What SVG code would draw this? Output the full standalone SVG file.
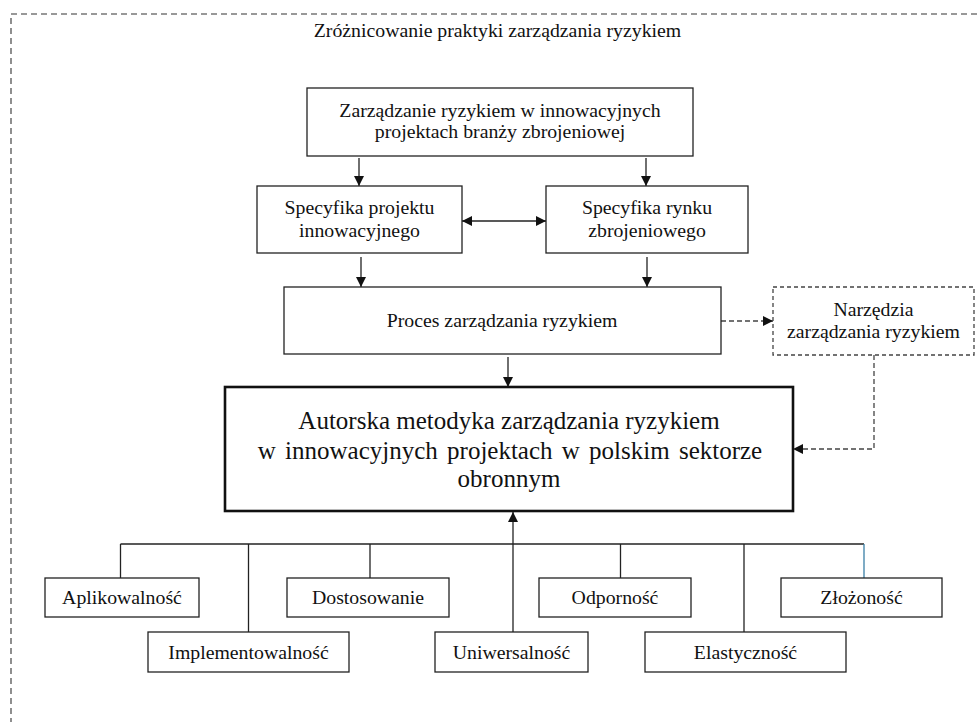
<svg xmlns="http://www.w3.org/2000/svg" width="978" height="722" viewBox="0 0 978 722">
  <defs>
    <marker id="arrow" viewBox="0 0 10 10" refX="10" refY="5" markerWidth="10" markerHeight="10" markerUnits="userSpaceOnUse" orient="auto-start-reverse">
      <path d="M0,0 L10,5 L0,10 Z" fill="#111"/>
    </marker>
  </defs>
  <style>
    .box { fill: #fff; stroke: #222; stroke-width: 1.3; }
    .main { fill: #fff; stroke: #111; stroke-width: 2.6; }
    .dbox { fill: #fff; stroke: #444; stroke-width: 1.3; stroke-dasharray: 4 3; }
    .frame { fill: none; stroke: #333; stroke-width: 1.1; stroke-dasharray: 6 4; }
    .ln { fill: none; stroke: #222; stroke-width: 1.3; }
    .dl { fill: none; stroke: #444; stroke-width: 1.3; stroke-dasharray: 5 3; }
    text { fill: #111; text-anchor: middle; }
    .t { font-size: 19.8px; }
    .big { font-size: 25px; }
  </style>

  <!-- outer dashed frame, running past the right and bottom edges -->
  <rect class="frame" x="11" y="14" width="1000" height="800"/>

  <g font-family="'Liberation Serif', Tinos, 'Times New Roman', Times, 'DejaVu Serif', serif">
  <text class="t" x="497.5" y="37">Zróżnicowanie praktyki zarządzania ryzykiem</text>

  <g id="connectors">
    <line class="ln" x1="359" y1="158" x2="359" y2="186" marker-end="url(#arrow)"/>
    <line class="ln" x1="646" y1="158" x2="646" y2="186" marker-end="url(#arrow)"/>
    <line class="ln" x1="462" y1="221" x2="546" y2="221" marker-start="url(#arrow)" marker-end="url(#arrow)"/>
    <line class="ln" x1="361" y1="257" x2="361" y2="287" marker-end="url(#arrow)"/>
    <line class="ln" x1="647" y1="257" x2="647" y2="287" marker-end="url(#arrow)"/>
    <line class="dl" x1="721" y1="321" x2="773" y2="321" marker-end="url(#arrow)"/>
    <polyline class="dl" points="874,355 874,449 793,449" marker-end="url(#arrow)"/>
    <line class="ln" x1="508" y1="357" x2="508" y2="387" marker-end="url(#arrow)"/>
    <!-- feature bus under the methodology box -->
    <line class="ln" x1="120.5" y1="544" x2="864" y2="544"/>
    <line class="ln" x1="120.5" y1="544" x2="120.5" y2="578"/>
    <line class="ln" x1="248.5" y1="544" x2="248.5" y2="632"/>
    <line class="ln" x1="370" y1="544" x2="370" y2="578"/>
    <line class="ln" x1="513" y1="634" x2="513" y2="512" marker-end="url(#arrow)"/>
    <line class="ln" x1="620.5" y1="544" x2="620.5" y2="578"/>
    <line class="ln" x1="744" y1="544" x2="744" y2="632"/>
    <line class="ln" x1="864" y1="544" x2="864" y2="578" style="stroke:#3a7fa6"/>
  </g>

  <g id="zarzadzanie">
    <rect class="box" x="307" y="88" width="386" height="68"/>
    <text class="t" x="500" y="117">Zarządzanie ryzykiem w innowacyjnych</text>
    <text class="t" x="500" y="138">projektach branży zbrojeniowej</text>
  </g>
  <g id="specyfika-projektu">
    <rect class="box" x="257" y="186" width="205" height="67"/>
    <text class="t" x="359.5" y="214">Specyfika projektu</text>
    <text class="t" x="359.5" y="237">innowacyjnego</text>
  </g>
  <g id="specyfika-rynku">
    <rect class="box" x="546" y="186" width="202" height="67"/>
    <text class="t" x="647" y="214">Specyfika rynku</text>
    <text class="t" x="647" y="237">zbrojeniowego</text>
  </g>
  <g id="proces">
    <rect class="box" x="284" y="287" width="437" height="67"/>
    <text class="t" x="502" y="327">Proces zarządzania ryzykiem</text>
  </g>
  <g id="narzedzia">
    <rect class="dbox" x="773" y="287" width="201" height="68"/>
    <text class="t" x="873.5" y="316">Narzędzia</text>
    <text class="t" x="873.5" y="338">zarządzania ryzykiem</text>
  </g>
  <g id="metodyka">
    <rect class="main" x="225" y="387" width="568" height="124"/>
    <text class="big" x="509" y="429">Autorska metodyka zarządzania ryzykiem</text>
    <text class="big" x="510" y="459" word-spacing="3">w innowacyjnych projektach w polskim sektorze</text>
    <text class="big" x="509" y="487">obronnym</text>
  </g>

  <g id="aplikowalnosc">
    <rect class="box" x="45" y="578" width="154" height="39"/>
    <text class="t" x="122" y="604">Aplikowalność</text>
  </g>
  <g id="dostosowanie">
    <rect class="box" x="287" y="578" width="162" height="39"/>
    <text class="t" x="368" y="604">Dostosowanie</text>
  </g>
  <g id="odpornosc">
    <rect class="box" x="539" y="578" width="152" height="39"/>
    <text class="t" x="615" y="604">Odporność</text>
  </g>
  <g id="zlozonosc">
    <rect class="box" x="781" y="578" width="161" height="39"/>
    <text class="t" x="861.5" y="604">Złożoność</text>
  </g>
  <g id="implementowalnosc">
    <rect class="box" x="148" y="632" width="201" height="40"/>
    <text class="t" x="248.5" y="659">Implementowalność</text>
  </g>
  <g id="uniwersalnosc">
    <rect class="box" x="435" y="632" width="153" height="40"/>
    <text class="t" x="511.5" y="659">Uniwersalność</text>
  </g>
  <g id="elastycznosc">
    <rect class="box" x="645" y="632" width="201" height="40"/>
    <text class="t" x="745.5" y="659">Elastyczność</text>
  </g>
  </g>
</svg>
